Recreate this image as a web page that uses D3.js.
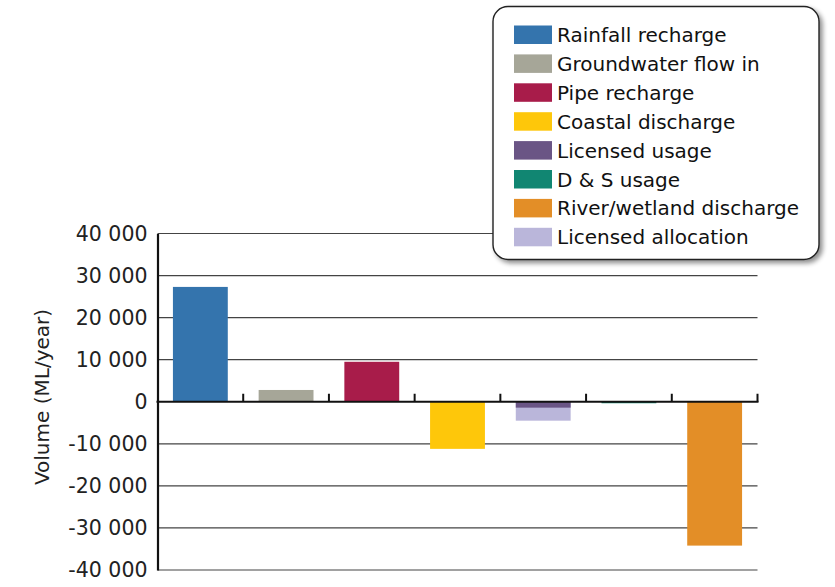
<!DOCTYPE html>
<html><head><meta charset="utf-8">
<script src="https://cdn.jsdelivr.net/npm/d3@7"></script>
<style>body{margin:0;background:#fff;} svg{display:block;}</style>
</head><body>
<svg id="c" width="835" height="587"></svg>
<script>
const categories = ["Rainfall recharge","Groundwater flow in","Pipe recharge","Coastal discharge","Licensed usage","D & S usage","River/wetland discharge"];
const values = [27300, 2800, 9500, -11200, -1400, -250, -34200];
const allocationCategory = "Licensed usage";
const allocationValue = -4500;
const legendLabels = ["Rainfall recharge","Groundwater flow in","Pipe recharge","Coastal discharge","Licensed usage","D & S usage","River/wetland discharge","Licensed allocation"];
const colors = ["#3474ad","#a6a698","#a81c4a","#fec70a","#6a5585","#118672","#e38e27","#bab6da"];
const yTicks = [40000,30000,20000,10000,0,-10000,-20000,-30000,-40000];

const svg = d3.select("#c");
const font = "'DejaVu Sans', sans-serif";
const x = d3.scaleBand().domain(categories).range([157.5, 757.5]).paddingInner(0.36).paddingOuter(0.18);
const y = d3.scaleLinear().domain([-40000, 40000]).range([570, 233.5]);
const fmt = v => d3.format(",")(Math.abs(v)).replace(/,/g, " ").replace(/^/, v < 0 ? "-" : "");

// gridlines
svg.append("g").selectAll("line").data(yTicks.filter(d=>d!==0)).join("line")
  .attr("x1", 157.5).attr("x2", 757.5).attr("y1", d=>y(d)).attr("y2", d=>y(d))
  .attr("stroke", "#444").attr("stroke-width", 1.2);

// y axis
const yAxis = svg.append("g").attr("transform","translate(157.5,0)")
  .call(d3.axisLeft(y).tickValues(yTicks).tickSize(0).tickPadding(10).tickFormat(fmt));
yAxis.select(".domain").attr("stroke","#111").attr("stroke-width",2.2);
yAxis.selectAll("text").attr("font-family",font).attr("font-size","20.5px").attr("fill","#222");

// bars
const colorOf = c => colors[legendLabels.indexOf(c)];
svg.append("rect")
  .attr("x", x(allocationCategory)).attr("width", x.bandwidth())
  .attr("y", y(0)).attr("height", y(allocationValue)-y(0))
  .attr("fill", colors[7]);
svg.append("g").selectAll("rect").data(categories).join("rect")
  .attr("x", d=>x(d)).attr("width", x.bandwidth())
  .attr("y", (d,i)=>y(Math.max(0,values[i])))
  .attr("height", (d,i)=>Math.max(1.5, Math.abs(y(values[i])-y(0))))
  .attr("fill", d=>colorOf(d));

// zero axis with category boundary ticks
const step = x.step();
const boundaries = d3.range(categories.length+1).map(i => 157.5 + i*step);
svg.append("line").attr("x1",156.5).attr("x2",758.5).attr("y1",y(0)).attr("y2",y(0))
  .attr("stroke","#111").attr("stroke-width",2.2);
svg.append("g").selectAll("line").data(boundaries.slice(1)).join("line")
  .attr("x1",d=>d).attr("x2",d=>d).attr("y1",y(0)).attr("y2",y(0)-8)
  .attr("stroke","#111").attr("stroke-width",2);

// y title
svg.append("text").attr("transform","translate(49,397) rotate(-90)")
  .attr("text-anchor","middle").attr("font-family",font).attr("font-size","20px").attr("fill","#222")
  .text("Volume (ML/year)");

// legend
const defs = svg.append("defs");
const f = defs.append("filter").attr("id","sh").attr("x","-10%").attr("y","-10%").attr("width","130%").attr("height","130%");
f.append("feGaussianBlur").attr("in","SourceAlpha").attr("stdDeviation",2.5);
f.append("feOffset").attr("dx",3).attr("dy",3).attr("result","o");
f.append("feComponentTransfer").append("feFuncA").attr("type","linear").attr("slope",0.45);
const m = f.append("feMerge"); m.append("feMergeNode"); m.append("feMergeNode").attr("in","SourceGraphic");
const lg = svg.append("g");
lg.append("rect").attr("x",493).attr("y",6.5).attr("width",326).attr("height",253).attr("rx",15)
  .attr("fill","#fff").attr("stroke","#222").attr("stroke-width",1.4).attr("filter","url(#sh)");
const items = lg.selectAll("g.it").data(legendLabels).join("g").attr("class","it")
  .attr("transform",(d,i)=>`translate(514,${35 + i*28.9})`);
items.append("rect").attr("x",0).attr("y",-9.5).attr("width",38).attr("height",18.5).attr("fill",(d,i)=>colors[i]);
items.append("text").attr("x",43).attr("y",7).attr("font-family",font).attr("font-size","20px").attr("fill","#111").text(d=>d);
</script>
</body></html>
